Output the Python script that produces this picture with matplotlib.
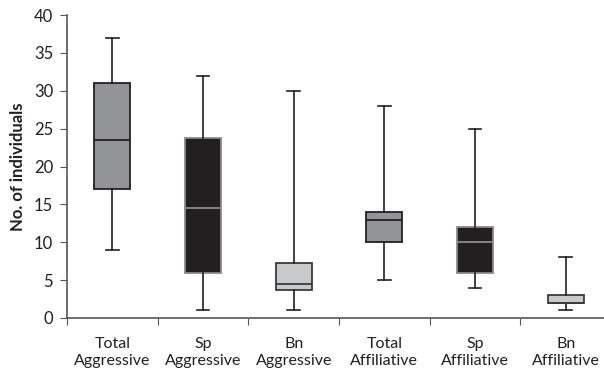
import matplotlib
matplotlib.use("Agg")
import matplotlib.pyplot as plt

categories = ["Total\nAggressive", "Sp\nAggressive", "Bn\nAggressive",
              "Total\nAffiliative", "Sp\nAffiliative", "Bn\nAffiliative"]
whislo = [9, 1, 1, 5, 4, 1]
q1 = [17, 6, 3.75, 10, 6, 2]
med = [23.5, 14.5, 4.5, 13, 10, 2]
q3 = [31, 23.7, 7.2, 14, 12, 3]
whishi = [37, 32, 30, 28, 25, 8]
yticks = [0, 5, 10, 15, 20, 25, 30, 35, 40]

face_colors = ["#929497", "#231f20", "#c8c9cb", "#929497", "#231f20", "#c8c9cb"]
edge_colors = ["#231f20", "#8a8a8a", "#3a3a3a", "#231f20", "#8a8a8a", "#3a3a3a"]
median_colors = ["#231f20", "#8a8a8a", "#3a3a3a", "#231f20", "#8a8a8a", "#3a3a3a"]

plt.rcParams['font.family'] = ['Lato', 'DejaVu Sans']

fig = plt.figure(figsize=(6.04, 3.73), dpi=100)
ax = fig.add_axes([67/604, 1 - 318/373, (611-67)/604, (318-15)/373])

stats = []
for i in range(len(categories)):
    stats.append(dict(whislo=whislo[i], q1=q1[i], med=med[i], q3=q3[i], whishi=whishi[i], fliers=[]))

bp = ax.bxp(stats, positions=range(1, 7), widths=0.40, patch_artist=True,
            showfliers=False, manage_ticks=False)
for i, box in enumerate(bp['boxes']):
    box.set_facecolor(face_colors[i])
    box.set_edgecolor(edge_colors[i])
    box.set_linewidth(1.3)
    bp['medians'][i].set_color(median_colors[i])
    bp['medians'][i].set_linewidth(1.3)
for w in bp['whiskers']:
    w.set_color("#231f20"); w.set_linewidth(1.2)
for c in bp['caps']:
    c.set_color("#231f20"); c.set_linewidth(1.2)
for i, c in enumerate(bp['caps']):
    pos = i // 2 + 1
    c.set_xdata([pos - 0.07, pos + 0.07])

ax.set_xlim(0.5, 6.5)
ax.set_ylim(0, 40)
ax.set_yticks(yticks)
ax.set_xticks([0.5 + k for k in range(6)])
ax.set_xticklabels([])
ax.set_xticks(range(1, 7), minor=True)
ax.set_xticklabels(categories, minor=True, fontsize=11.5, color="#231f20", linespacing=1.25)
ax.tick_params(axis='x', which='minor', length=0, pad=14)
ax.tick_params(axis='x', which='major', direction='out', length=5, color="#555555")
ax.tick_params(axis='y', direction='out', length=5, color="#555555", labelsize=12,
               labelcolor="#231f20", pad=5)
for s in ['top', 'right']:
    ax.spines[s].set_visible(False)
for s in ['left', 'bottom']:
    ax.spines[s].set_color("#555555")
    ax.spines[s].set_linewidth(1.2)
ax.set_ylabel("No. of individuals", fontsize=12, fontweight='bold', color="#231f20", labelpad=6)

fig.savefig("out.png", dpi=100)
